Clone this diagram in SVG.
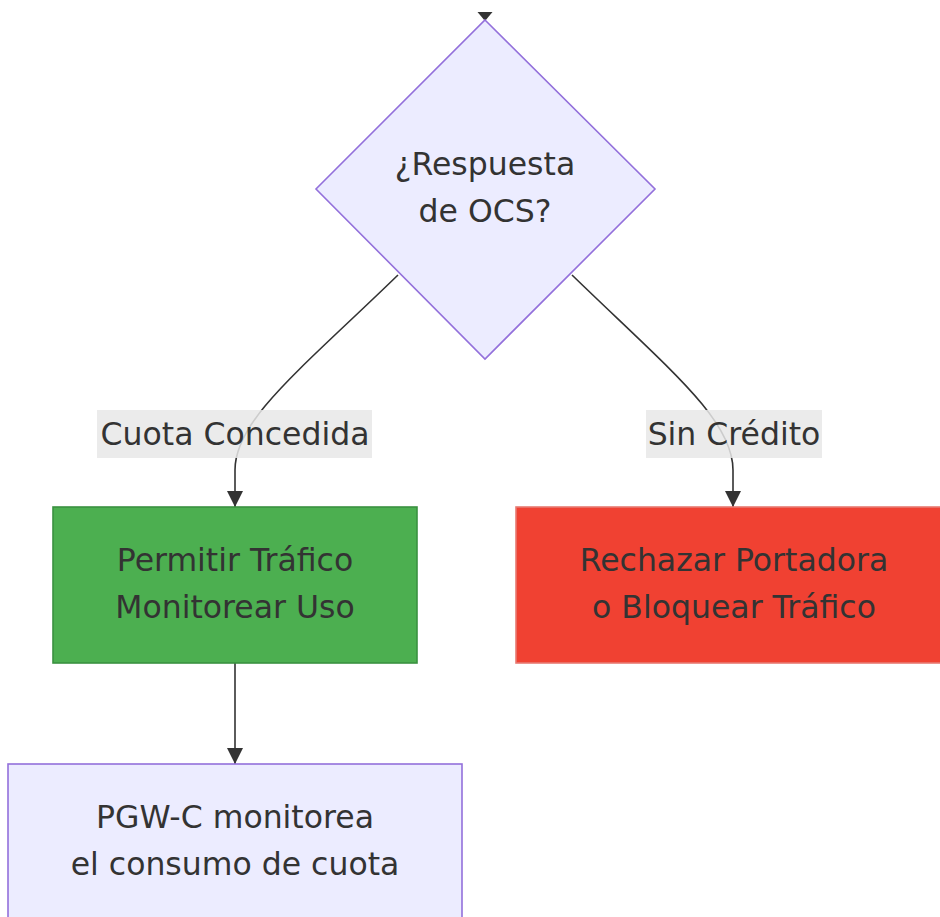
<svg xmlns="http://www.w3.org/2000/svg" width="940" height="917" viewBox="0 0 940 917">
<style>
  text { font-family: "DejaVu Sans", "Liberation Sans", sans-serif; font-size: 31.5px; fill: #333333; text-anchor: middle; }
  .edge { fill: none; stroke: #333333; stroke-width: 1.6; }
  .lbl { fill: #e8e8e8; opacity: 0.85; }
</style>
<defs>
  <marker id="arrow" viewBox="0 0 16 16" refX="16" refY="8" markerWidth="16" markerHeight="16" markerUnits="userSpaceOnUse" orient="auto">
    <path d="M0,0 L16,8 L0,16 Z" fill="#333333"/>
  </marker>
</defs>
<rect width="940" height="917" fill="#ffffff"/>
<g id="connectors">
  <path d="M477.5,12 L492.5,12 L485,21 Z" fill="#333333"/>
  <path class="edge" d="M398,275 C300,370 235,420 235,470 L235,507" marker-end="url(#arrow)"/>
  <path class="edge" d="M572,275 C670,370 733,420 733,470 L733,507" marker-end="url(#arrow)"/>
  <path class="edge" d="M235,663 L235,764" marker-end="url(#arrow)"/>
</g>
<g id="decision">
  <polygon points="485,20 655,189 485,359 316,189" fill="#ececff" stroke="#9370db" stroke-width="1.6"/>
  <text x="485" y="175">¿Respuesta</text>
  <text x="485" y="222">de OCS?</text>
</g>
<g id="label-cuota">
  <rect class="lbl" x="97" y="410" width="275" height="48"/>
  <text x="235" y="445">Cuota Concedida</text>
</g>
<g id="label-sin">
  <rect class="lbl" x="646" y="410" width="176" height="48"/>
  <text x="734" y="445">Sin Crédito</text>
</g>
<g id="permitir">
  <rect x="53" y="507" width="364" height="156" fill="#4caf50" stroke="#3a9140" stroke-width="1.6"/>
  <text x="235" y="571">Permitir Tráfico</text>
  <text x="235" y="618">Monitorear Uso</text>
</g>
<g id="rechazar">
  <rect x="516" y="507" width="436" height="156" fill="#f04132" stroke="#e87a72" stroke-width="1.6"/>
  <text x="734" y="571">Rechazar Portadora</text>
  <text x="734" y="618">o Bloquear Tráfico</text>
</g>
<g id="monitorea">
  <rect x="8" y="764" width="454" height="170" fill="#ececff" stroke="#9370db" stroke-width="1.6"/>
  <text x="235" y="828">PGW-C monitorea</text>
  <text x="235" y="875">el consumo de cuota</text>
</g>
</svg>
